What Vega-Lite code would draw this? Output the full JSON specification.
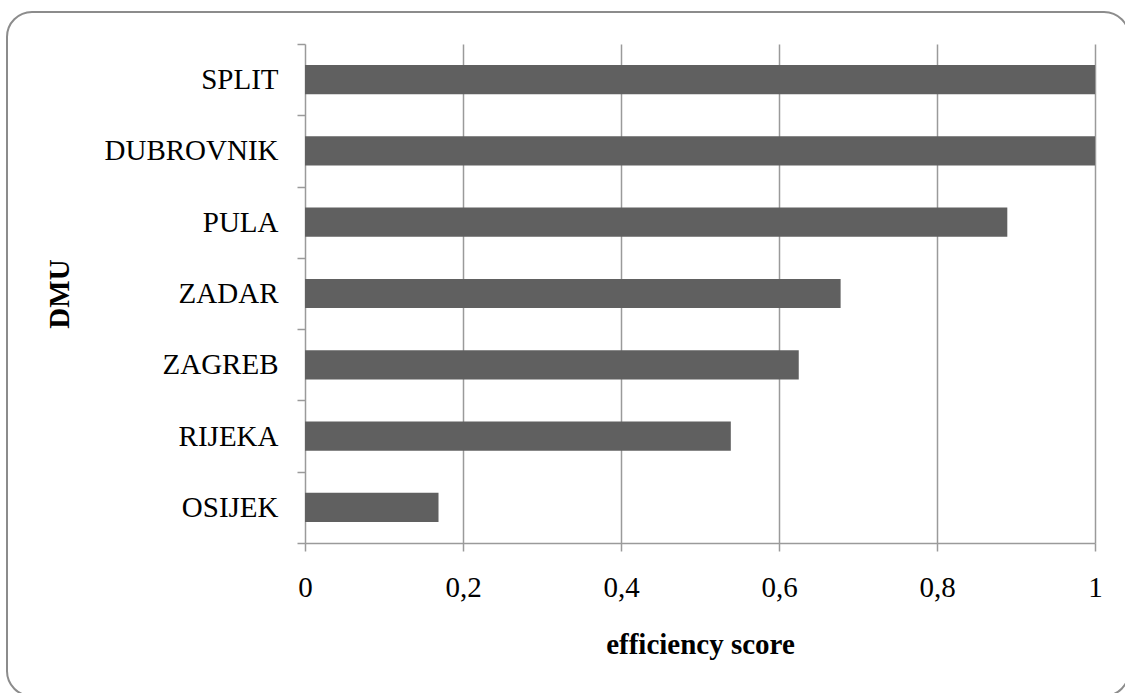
{
  "$schema": "https://vega.github.io/schema/vega-lite/v6.json",
  "width": 1122,
  "height": 684,
  "autosize": {"type": "none"},
  "padding": {"left": 7, "top": 12, "right": -4, "bottom": -3},
  "background": "white",
  "config": {
    "view": {"stroke": "#8c8c8c", "strokeWidth": 2, "cornerRadius": 25, "fill": "white"},
    "font": "Liberation Serif",
    "axis": {
      "labelFont": "Liberation Serif",
      "titleFont": "Liberation Serif",
      "labelFontSize": 29,
      "titleFontSize": 29,
      "labelColor": "black",
      "titleColor": "black",
      "domainColor": "#9a9a9a",
      "tickColor": "#9a9a9a",
      "gridColor": "#9a9a9a",
      "domainWidth": 1.5,
      "tickWidth": 1.5,
      "gridWidth": 1.5
    }
  },
  "data": {
    "values": [
      {"dmu": "SPLIT", "score": 1.0},
      {"dmu": "DUBROVNIK", "score": 1.0},
      {"dmu": "PULA", "score": 0.889},
      {"dmu": "ZADAR", "score": 0.678},
      {"dmu": "ZAGREB", "score": 0.625},
      {"dmu": "RIJEKA", "score": 0.539},
      {"dmu": "OSIJEK", "score": 0.169}
    ]
  },
  "layer": [
    {
      "mark": {"type": "bar", "opacity": 0, "height": {"band": 0.41}},
      "encoding": {
        "y": {
          "field": "dmu", "type": "nominal",
          "sort": ["SPLIT", "DUBROVNIK", "PULA", "ZADAR", "ZAGREB", "RIJEKA", "OSIJEK"],
          "scale": {"range": [32, 531], "paddingInner": 0, "paddingOuter": 0},
          "axis": null
        },
        "x": {
          "field": "score", "type": "quantitative",
          "scale": {"domain": [0, 1], "range": [298, 1088], "nice": false},
          "axis": {
            "orient": "top", "grid": true, "domain": false, "ticks": false, "labels": false,
            "title": null, "values": [0.2, 0.4, 0.6, 0.8, 1], "zindex": 0
          }
        }
      }
    },
    {
      "mark": {"type": "bar", "color": "#606060", "height": {"band": 0.41}},
      "encoding": {
        "y": {
          "field": "dmu", "type": "nominal",
          "sort": ["SPLIT", "DUBROVNIK", "PULA", "ZADAR", "ZAGREB", "RIJEKA", "OSIJEK"],
          "scale": {"range": [32, 531], "paddingInner": 0, "paddingOuter": 0},
          "axis": {
            "orient": "left", "offset": -298, "grid": false, "tickBand": "extent",
            "tickSize": 8, "labelPadding": 19, "title": "DMU", "titleFontWeight": "bold",
            "titlePadding": 31, "labelBaseline": "middle"
          }
        },
        "x": {
          "field": "score", "type": "quantitative",
          "scale": {"domain": [0, 1], "range": [298, 1088], "nice": false},
          "axis": {
            "orient": "bottom", "offset": -153, "grid": false,
            "values": [0, 0.2, 0.4, 0.6, 0.8, 1], "tickSize": 8, "labelPadding": 22,
            "labelFlush": false, "labelOverlap": false, "labelBound": false,
            "labelExpr": "replace(format(datum.value, '~g'), '.', ',')",
            "title": "efficiency score", "titleFontWeight": "bold", "titlePadding": 28
          }
        }
      }
    }
  ],
  "resolve": {"axis": {"x": "independent", "y": "independent"}}
}
